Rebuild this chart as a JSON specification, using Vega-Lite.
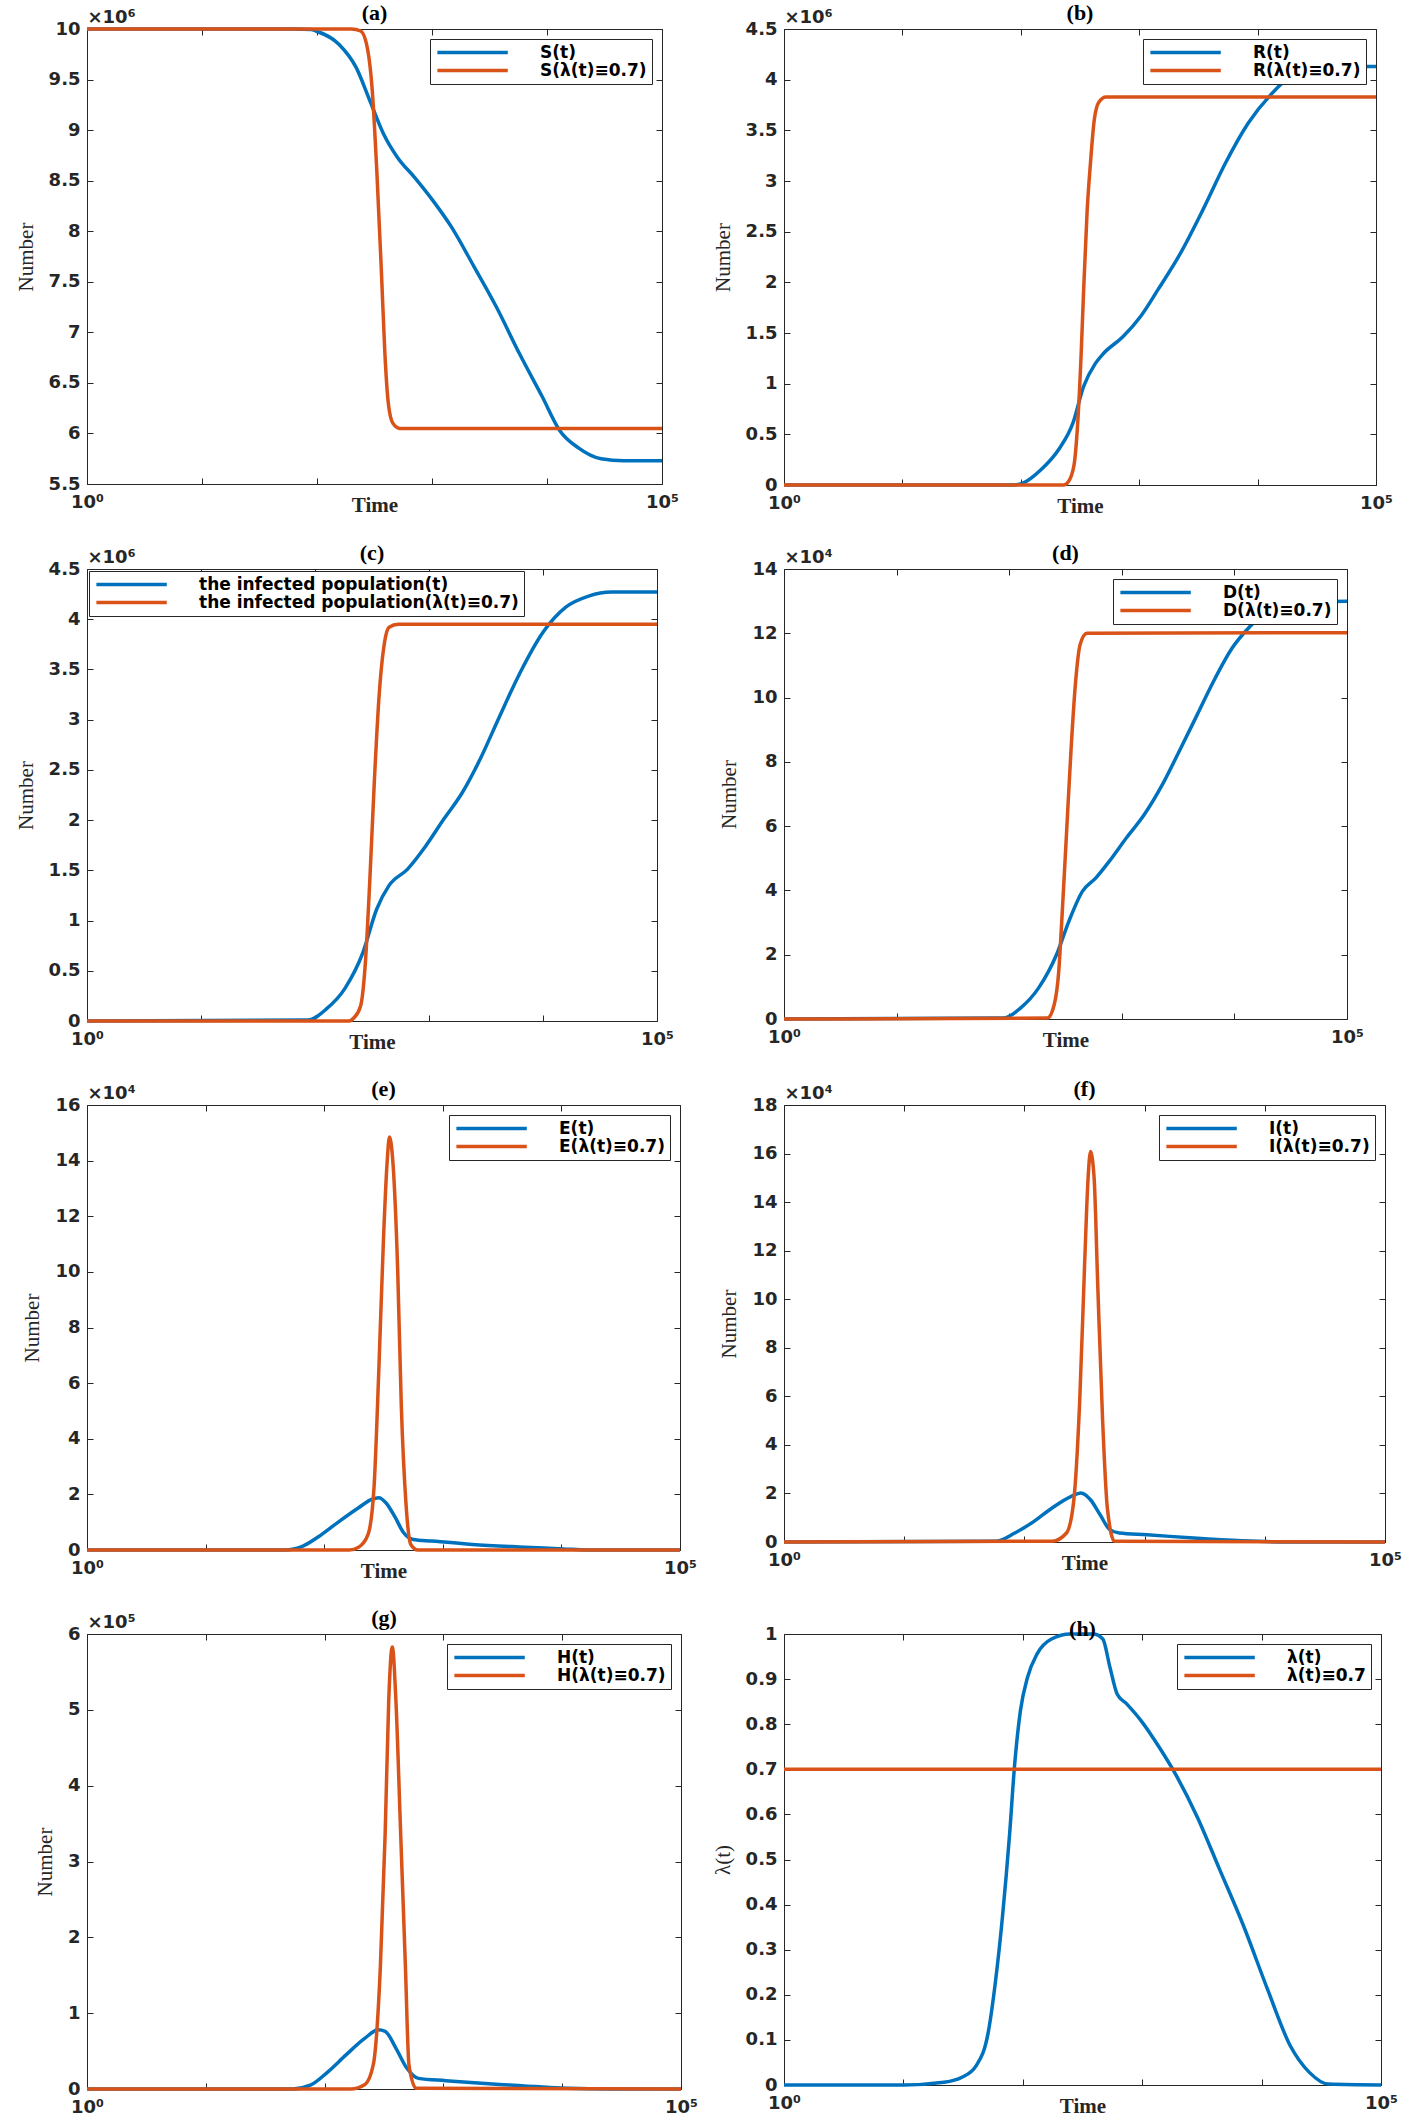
{
"$schema": "https://vega.github.io/schema/vega-lite/v6.json",
"background": "white",
"padding": {"left": 14, "top": 1, "right": 5, "bottom": 0},
"columns": 2,
"spacing": {"row": 24, "column": 13},
"resolve": {"scale": {"color": "independent"}, "legend": {"color": "independent"}},
"config": {
  "view": {"stroke": "#262626", "strokeWidth": 1},
  "axis": {"domain": false, "grid": false, "tickColor": "#262626", "tickSize": -6, "labelPadding": 13, "labelColor": "#262626", "labelFont": "DejaVu Sans", "labelFontWeight": "bold", "labelFontSize": 18, "titleColor": "#262626", "titleFont": "Liberation Serif"},
  "axisBottom": {"labelPadding": 15},
  "line": {"strokeWidth": 3.5, "interpolate": "monotone"},
  "legend": {"orient": "top-right", "offset": 10, "symbolType": "M-1,0H10.5", "symbolSize": 150, "symbolStrokeWidth": 3.5, "labelOffset": 88, "labelFont": "DejaVu Sans", "labelFontWeight": "bold", "labelFontSize": 17, "labelColor": "#000000", "strokeColor": "#262626", "fillColor": "white", "padding": 5, "rowPadding": 0, "labelLimit": 0},
  "title": {"font": "Liberation Serif", "fontSize": 22, "fontWeight": "bold", "color": "#000000", "offset": -16}
},
"datasets": {
  "a": [
    {"t":1,"v":10,"s":"S(t)"},{"t":31.62,"v":10,"s":"S(t)"},{"t":61.66,"v":10,"s":"S(t)"},{"t":89.13,"v":9.995,"s":"S(t)"},{"t":97.72,"v":9.98,"s":"S(t)"},{"t":154.9,"v":9.85,"s":"S(t)"},{"t":218.8,"v":9.62,"s":"S(t)"},{"t":288.4,"v":9.29,"s":"S(t)"},{"t":380.2,"v":8.96,"s":"S(t)"},{"t":501.2,"v":8.73,"s":"S(t)"},{"t":707.9,"v":8.53,"s":"S(t)"},{"t":1023,"v":8.3,"s":"S(t)"},{"t":1479,"v":8.04,"s":"S(t)"},{"t":2344,"v":7.64,"s":"S(t)"},{"t":3631,"v":7.25,"s":"S(t)"},{"t":5754,"v":6.79,"s":"S(t)"},{"t":9120,"v":6.36,"s":"S(t)"},{"t":12882,"v":6.03,"s":"S(t)"},{"t":18621,"v":5.86,"s":"S(t)"},{"t":29512,"v":5.75,"s":"S(t)"},{"t":46774,"v":5.73,"s":"S(t)"},{"t":100000,"v":5.73,"s":"S(t)"},
    {"t":1,"v":10,"s":"S(λ(t)≡0.7)"},{"t":199.5,"v":10,"s":"S(λ(t)≡0.7)"},{"t":239.9,"v":9.98,"s":"S(λ(t)≡0.7)"},{"t":275.4,"v":9.8,"s":"S(λ(t)≡0.7)"},{"t":302,"v":9.4,"s":"S(λ(t)≡0.7)"},{"t":331.1,"v":8.6,"s":"S(λ(t)≡0.7)"},{"t":363.1,"v":7.6,"s":"S(λ(t)≡0.7)"},{"t":389,"v":6.8,"s":"S(λ(t)≡0.7)"},{"t":416.9,"v":6.3,"s":"S(λ(t)≡0.7)"},{"t":457.1,"v":6.1,"s":"S(λ(t)≡0.7)"},{"t":524.8,"v":6.05,"s":"S(λ(t)≡0.7)"},{"t":100000,"v":6.05,"s":"S(λ(t)≡0.7)"}
  ],
  "b": [
    {"t":1,"v":0,"s":"R(t)"},{"t":87.1,"v":0,"s":"R(t)"},{"t":104.7,"v":0.02,"s":"R(t)"},{"t":147.9,"v":0.15,"s":"R(t)"},{"t":208.9,"v":0.35,"s":"R(t)"},{"t":275.4,"v":0.61,"s":"R(t)"},{"t":338.8,"v":0.97,"s":"R(t)"},{"t":426.6,"v":1.2,"s":"R(t)"},{"t":501.2,"v":1.3,"s":"R(t)"},{"t":724.4,"v":1.46,"s":"R(t)"},{"t":1023,"v":1.66,"s":"R(t)"},{"t":1445,"v":1.93,"s":"R(t)"},{"t":2239,"v":2.29,"s":"R(t)"},{"t":3467,"v":2.72,"s":"R(t)"},{"t":5370,"v":3.18,"s":"R(t)"},{"t":8318,"v":3.57,"s":"R(t)"},{"t":12882,"v":3.85,"s":"R(t)"},{"t":19953,"v":4.05,"s":"R(t)"},{"t":30903,"v":4.12,"s":"R(t)"},{"t":47863,"v":4.13,"s":"R(t)"},{"t":100000,"v":4.13,"s":"R(t)"},
    {"t":1,"v":0,"s":"R(λ(t)≡0.7)"},{"t":229.1,"v":0,"s":"R(λ(t)≡0.7)"},{"t":251.2,"v":0.03,"s":"R(λ(t)≡0.7)"},{"t":281.8,"v":0.2,"s":"R(λ(t)≡0.7)"},{"t":302,"v":0.6,"s":"R(λ(t)≡0.7)"},{"t":323.6,"v":1.3,"s":"R(λ(t)≡0.7)"},{"t":338.8,"v":1.9,"s":"R(λ(t)≡0.7)"},{"t":363.1,"v":2.7,"s":"R(λ(t)≡0.7)"},{"t":389,"v":3.2,"s":"R(λ(t)≡0.7)"},{"t":416.9,"v":3.6,"s":"R(λ(t)≡0.7)"},{"t":457.1,"v":3.78,"s":"R(λ(t)≡0.7)"},{"t":524.8,"v":3.83,"s":"R(λ(t)≡0.7)"},{"t":100000,"v":3.83,"s":"R(λ(t)≡0.7)"}
  ],
  "c": [
    {"t":1,"v":0,"s":"the infected population(t)"},{"t":87.1,"v":0.01,"s":"the infected population(t)"},{"t":125.9,"v":0.12,"s":"the infected population(t)"},{"t":182,"v":0.32,"s":"the infected population(t)"},{"t":263,"v":0.68,"s":"the infected population(t)"},{"t":346.7,"v":1.11,"s":"the infected population(t)"},{"t":446.7,"v":1.35,"s":"the infected population(t)"},{"t":645.7,"v":1.51,"s":"the infected population(t)"},{"t":933.3,"v":1.74,"s":"the infected population(t)"},{"t":1349,"v":2.01,"s":"the infected population(t)"},{"t":1950,"v":2.27,"s":"the infected population(t)"},{"t":2818,"v":2.61,"s":"the infected population(t)"},{"t":4074,"v":3.01,"s":"the infected population(t)"},{"t":6310,"v":3.47,"s":"the infected population(t)"},{"t":10000,"v":3.87,"s":"the infected population(t)"},{"t":15849,"v":4.12,"s":"the infected population(t)"},{"t":25119,"v":4.23,"s":"the infected population(t)"},{"t":39811,"v":4.27,"s":"the infected population(t)"},{"t":100000,"v":4.27,"s":"the infected population(t)"},
    {"t":1,"v":0,"s":"the infected population(λ(t)≡0.7)"},{"t":199.5,"v":0,"s":"the infected population(λ(t)≡0.7)"},{"t":218.8,"v":0.03,"s":"the infected population(λ(t)≡0.7)"},{"t":251.2,"v":0.15,"s":"the infected population(λ(t)≡0.7)"},{"t":275.4,"v":0.55,"s":"the infected population(λ(t)≡0.7)"},{"t":302,"v":1.38,"s":"the infected population(λ(t)≡0.7)"},{"t":331.1,"v":2.37,"s":"the infected population(λ(t)≡0.7)"},{"t":363.1,"v":3.2,"s":"the infected population(λ(t)≡0.7)"},{"t":407.4,"v":3.77,"s":"the infected population(λ(t)≡0.7)"},{"t":446.7,"v":3.92,"s":"the infected population(λ(t)≡0.7)"},{"t":537,"v":3.95,"s":"the infected population(λ(t)≡0.7)"},{"t":100000,"v":3.95,"s":"the infected population(λ(t)≡0.7)"}
  ],
  "d": [
    {"t":1,"v":0,"s":"D(t)"},{"t":89.13,"v":0.03,"s":"D(t)"},{"t":125.9,"v":0.34,"s":"D(t)"},{"t":182,"v":0.96,"s":"D(t)"},{"t":263,"v":2.0,"s":"D(t)"},{"t":338.8,"v":3.04,"s":"D(t)"},{"t":446.7,"v":3.97,"s":"D(t)"},{"t":588.8,"v":4.39,"s":"D(t)"},{"t":776.2,"v":4.91,"s":"D(t)"},{"t":1096,"v":5.63,"s":"D(t)"},{"t":1585,"v":6.36,"s":"D(t)"},{"t":2291,"v":7.29,"s":"D(t)"},{"t":3236,"v":8.33,"s":"D(t)"},{"t":4677,"v":9.47,"s":"D(t)"},{"t":6761,"v":10.61,"s":"D(t)"},{"t":9550,"v":11.54,"s":"D(t)"},{"t":13804,"v":12.22,"s":"D(t)"},{"t":21380,"v":12.79,"s":"D(t)"},{"t":33884,"v":12.97,"s":"D(t)"},{"t":100000,"v":13.0,"s":"D(t)"},
    {"t":1,"v":0,"s":"D(λ(t)≡0.7)"},{"t":218.8,"v":0.03,"s":"D(λ(t)≡0.7)"},{"t":251.2,"v":0.45,"s":"D(λ(t)≡0.7)"},{"t":275.4,"v":1.48,"s":"D(λ(t)≡0.7)"},{"t":295.1,"v":3.25,"s":"D(λ(t)≡0.7)"},{"t":323.6,"v":5.84,"s":"D(λ(t)≡0.7)"},{"t":354.8,"v":8.43,"s":"D(λ(t)≡0.7)"},{"t":389,"v":10.5,"s":"D(λ(t)≡0.7)"},{"t":426.6,"v":11.65,"s":"D(λ(t)≡0.7)"},{"t":489.8,"v":12.0,"s":"D(λ(t)≡0.7)"},{"t":100000,"v":12.02,"s":"D(λ(t)≡0.7)"}
  ],
  "e": [
    {"t":1,"v":0,"s":"E(t)"},{"t":46.77,"v":0,"s":"E(t)"},{"t":66.07,"v":0.14,"s":"E(t)"},{"t":95.5,"v":0.56,"s":"E(t)"},{"t":134.9,"v":1.04,"s":"E(t)"},{"t":195,"v":1.52,"s":"E(t)"},{"t":251.2,"v":1.82,"s":"E(t)"},{"t":288.4,"v":1.88,"s":"E(t)"},{"t":331.1,"v":1.7,"s":"E(t)"},{"t":398.1,"v":1.16,"s":"E(t)"},{"t":467.7,"v":0.62,"s":"E(t)"},{"t":562.3,"v":0.38,"s":"E(t)"},{"t":812.8,"v":0.32,"s":"E(t)"},{"t":1778,"v":0.2,"s":"E(t)"},{"t":4365,"v":0.11,"s":"E(t)"},{"t":10471,"v":0.04,"s":"E(t)"},{"t":16596,"v":0,"s":"E(t)"},{"t":100000,"v":0,"s":"E(t)"},
    {"t":1,"v":0,"s":"E(λ(t)≡0.7)"},{"t":162.2,"v":0,"s":"E(λ(t)≡0.7)"},{"t":195,"v":0.1,"s":"E(λ(t)≡0.7)"},{"t":234.4,"v":0.56,"s":"E(λ(t)≡0.7)"},{"t":263,"v":2.24,"s":"E(λ(t)≡0.7)"},{"t":288.4,"v":6.4,"s":"E(λ(t)≡0.7)"},{"t":316.2,"v":11.2,"s":"E(λ(t)≡0.7)"},{"t":338.8,"v":13.9,"s":"E(λ(t)≡0.7)"},{"t":354.8,"v":14.85,"s":"E(λ(t)≡0.7)"},{"t":380.2,"v":13.9,"s":"E(λ(t)≡0.7)"},{"t":416.9,"v":10.0,"s":"E(λ(t)≡0.7)"},{"t":446.7,"v":5.2,"s":"E(λ(t)≡0.7)"},{"t":489.8,"v":1.64,"s":"E(λ(t)≡0.7)"},{"t":537,"v":0.2,"s":"E(λ(t)≡0.7)"},{"t":616.6,"v":0,"s":"E(λ(t)≡0.7)"},{"t":100000,"v":0,"s":"E(λ(t)≡0.7)"}
  ],
  "f": [
    {"t":1,"v":0,"s":"I(t)"},{"t":57.54,"v":0.03,"s":"I(t)"},{"t":83.18,"v":0.37,"s":"I(t)"},{"t":120.2,"v":0.85,"s":"I(t)"},{"t":169.8,"v":1.4,"s":"I(t)"},{"t":245.5,"v":1.88,"s":"I(t)"},{"t":295.1,"v":2.02,"s":"I(t)"},{"t":354.8,"v":1.74,"s":"I(t)"},{"t":426.6,"v":1.12,"s":"I(t)"},{"t":512.9,"v":0.51,"s":"I(t)"},{"t":616.6,"v":0.37,"s":"I(t)"},{"t":1047,"v":0.3,"s":"I(t)"},{"t":2570,"v":0.16,"s":"I(t)"},{"t":6457,"v":0.05,"s":"I(t)"},{"t":15849,"v":0,"s":"I(t)"},{"t":100000,"v":0,"s":"I(t)"},
    {"t":1,"v":0,"s":"I(λ(t)≡0.7)"},{"t":169.8,"v":0.03,"s":"I(λ(t)≡0.7)"},{"t":223.9,"v":0.37,"s":"I(λ(t)≡0.7)"},{"t":257,"v":1.67,"s":"I(λ(t)≡0.7)"},{"t":288.4,"v":5.79,"s":"I(λ(t)≡0.7)"},{"t":316.2,"v":11.3,"s":"I(λ(t)≡0.7)"},{"t":338.8,"v":15.0,"s":"I(λ(t)≡0.7)"},{"t":354.8,"v":16.08,"s":"I(λ(t)≡0.7)"},{"t":380.2,"v":15.0,"s":"I(λ(t)≡0.7)"},{"t":407.4,"v":10.6,"s":"I(λ(t)≡0.7)"},{"t":446.7,"v":5.1,"s":"I(λ(t)≡0.7)"},{"t":489.8,"v":1.4,"s":"I(λ(t)≡0.7)"},{"t":562.3,"v":0.03,"s":"I(λ(t)≡0.7)"},{"t":100000,"v":0,"s":"I(λ(t)≡0.7)"}
  ],
  "g": [
    {"t":1,"v":0,"s":"H(t)"},{"t":53.7,"v":0,"s":"H(t)"},{"t":75.86,"v":0.05,"s":"H(t)"},{"t":107.2,"v":0.23,"s":"H(t)"},{"t":151.4,"v":0.45,"s":"H(t)"},{"t":218.8,"v":0.67,"s":"H(t)"},{"t":281.8,"v":0.78,"s":"H(t)"},{"t":323.6,"v":0.76,"s":"H(t)"},{"t":398.1,"v":0.54,"s":"H(t)"},{"t":489.8,"v":0.28,"s":"H(t)"},{"t":616.6,"v":0.14,"s":"H(t)"},{"t":1047,"v":0.11,"s":"H(t)"},{"t":2951,"v":0.06,"s":"H(t)"},{"t":10965,"v":0.01,"s":"H(t)"},{"t":25704,"v":0,"s":"H(t)"},{"t":100000,"v":0,"s":"H(t)"},
    {"t":1,"v":0,"s":"H(λ(t)≡0.7)"},{"t":166,"v":0,"s":"H(λ(t)≡0.7)"},{"t":218.8,"v":0.06,"s":"H(λ(t)≡0.7)"},{"t":257,"v":0.32,"s":"H(λ(t)≡0.7)"},{"t":295.1,"v":1.63,"s":"H(λ(t)≡0.7)"},{"t":323.6,"v":3.38,"s":"H(λ(t)≡0.7)"},{"t":346.7,"v":5.13,"s":"H(λ(t)≡0.7)"},{"t":371.5,"v":5.83,"s":"H(λ(t)≡0.7)"},{"t":398.1,"v":5.13,"s":"H(λ(t)≡0.7)"},{"t":436.5,"v":3.38,"s":"H(λ(t)≡0.7)"},{"t":478.6,"v":1.63,"s":"H(λ(t)≡0.7)"},{"t":512.9,"v":0.32,"s":"H(λ(t)≡0.7)"},{"t":588.8,"v":0.01,"s":"H(λ(t)≡0.7)"},{"t":100000,"v":0,"s":"H(λ(t)≡0.7)"}
  ],
  "h": [
    {"t":1,"v":0,"s":"λ(t)"},{"t":10,"v":0,"s":"λ(t)"},{"t":21.88,"v":0.006,"s":"λ(t)"},{"t":30.9,"v":0.017,"s":"λ(t)"},{"t":40.74,"v":0.043,"s":"λ(t)"},{"t":51.29,"v":0.116,"s":"λ(t)"},{"t":58.88,"v":0.227,"s":"λ(t)"},{"t":67.61,"v":0.374,"s":"λ(t)"},{"t":77.62,"v":0.558,"s":"λ(t)"},{"t":85.11,"v":0.705,"s":"λ(t)"},{"t":95.5,"v":0.83,"s":"λ(t)"},{"t":109.6,"v":0.904,"s":"λ(t)"},{"t":131.8,"v":0.956,"s":"λ(t)"},{"t":173.8,"v":0.989,"s":"λ(t)"},{"t":251.2,"v":1.0,"s":"λ(t)"},{"t":389,"v":1.0,"s":"λ(t)"},{"t":467.7,"v":0.989,"s":"λ(t)"},{"t":537,"v":0.926,"s":"λ(t)"},{"t":616.6,"v":0.867,"s":"λ(t)"},{"t":741.3,"v":0.845,"s":"λ(t)"},{"t":977.2,"v":0.808,"s":"λ(t)"},{"t":1380,"v":0.75,"s":"λ(t)"},{"t":1820,"v":0.698,"s":"λ(t)"},{"t":2884,"v":0.595,"s":"λ(t)"},{"t":4467,"v":0.477,"s":"λ(t)"},{"t":7079,"v":0.352,"s":"λ(t)"},{"t":11220,"v":0.212,"s":"λ(t)"},{"t":17378,"v":0.087,"s":"λ(t)"},{"t":25119,"v":0.028,"s":"λ(t)"},{"t":36308,"v":0.002,"s":"λ(t)"},{"t":100000,"v":0,"s":"λ(t)"},
    {"t":1,"v":0.7,"s":"λ(t)≡0.7"},{"t":100000,"v":0.7,"s":"λ(t)≡0.7"}
  ]
},
"concat": [
  {
    "width": 575, "height": 455,
    "data": {"name": "a"},
    "title": {"text": "(a)"},
    "resolve": {"axis": {"x": "independent", "y": "independent"}},
    "layer": [
      {"mark": {"type": "line"},
       "encoding": {
         "x": {"field": "t", "type": "quantitative", "scale": {"type": "log", "domain": [1, 100000], "nice": false}, "axis": {"orient": "bottom", "values": [1,10,100,1000,10000,100000], "labelExpr": "datum.value == 1 ? '10⁰' : datum.value == 100000 ? '10⁵' : ''", "labelFlush": false, "labelOverlap": false, "title": "Time", "titleFontWeight": "bold", "titleFontSize": 21, "titlePadding": -17}},
         "y": {"field": "v", "type": "quantitative", "scale": {"domain": [5.5, 10], "nice": false, "zero": false}, "axis": {"orient": "left", "values": [5.5,6,6.5,7,7.5,8,8.5,9,9.5,10], "format": "~g", "title": "Number", "titleFontSize": 21, "titleFontWeight": "normal", "titlePadding": 12}},
         "color": {"field": "s", "type": "nominal", "scale": {"domain": ["S(t)", "S(λ(t)≡0.7)"], "range": ["#0072BD", "#D95319"]}, "legend": {"title": null}}
       }},
      {"mark": {"type": "line", "strokeOpacity": 0},
       "encoding": {
         "x": {"field": "t", "type": "quantitative", "scale": {"type": "log", "domain": [1, 100000], "nice": false}, "axis": {"orient": "top", "values": [1,10,100,1000,10000,100000], "labels": false, "title": "×10⁶", "titleAnchor": "start", "titleAlign": "left", "titlePadding": 2, "titleFont": "DejaVu Sans", "titleFontWeight": "bold", "titleFontSize": 18}},
         "y": {"field": "v", "type": "quantitative", "scale": {"domain": [5.5, 10], "nice": false, "zero": false}, "axis": {"orient": "right", "values": [5.5,6,6.5,7,7.5,8,8.5,9,9.5,10], "labels": false, "title": null}}
       }}
    ]
  },
  {
    "width": 592, "height": 456,
    "data": {"name": "b"},
    "title": {"text": "(b)"},
    "resolve": {"axis": {"x": "independent", "y": "independent"}},
    "layer": [
      {"mark": {"type": "line"},
       "encoding": {
         "x": {"field": "t", "type": "quantitative", "scale": {"type": "log", "domain": [1, 100000], "nice": false}, "axis": {"orient": "bottom", "values": [1,10,100,1000,10000,100000], "labelExpr": "datum.value == 1 ? '10⁰' : datum.value == 100000 ? '10⁵' : ''", "labelFlush": false, "labelOverlap": false, "title": "Time", "titleFontWeight": "bold", "titleFontSize": 21, "titlePadding": -17}},
         "y": {"field": "v", "type": "quantitative", "scale": {"domain": [0, 4.5], "nice": false}, "axis": {"orient": "left", "values": [0,0.5,1,1.5,2,2.5,3,3.5,4,4.5], "format": "~g", "title": "Number", "titleFontSize": 21, "titleFontWeight": "normal", "titlePadding": 12}},
         "color": {"field": "s", "type": "nominal", "scale": {"domain": ["R(t)", "R(λ(t)≡0.7)"], "range": ["#0072BD", "#D95319"]}, "legend": {"title": null}}
       }},
      {"mark": {"type": "line", "strokeOpacity": 0},
       "encoding": {
         "x": {"field": "t", "type": "quantitative", "scale": {"type": "log", "domain": [1, 100000], "nice": false}, "axis": {"orient": "top", "values": [1,10,100,1000,10000,100000], "labels": false, "title": "×10⁶", "titleAnchor": "start", "titleAlign": "left", "titlePadding": 2, "titleFont": "DejaVu Sans", "titleFontWeight": "bold", "titleFontSize": 18}},
         "y": {"field": "v", "type": "quantitative", "scale": {"domain": [0, 4.5], "nice": false}, "axis": {"orient": "right", "values": [0,0.5,1,1.5,2,2.5,3,3.5,4,4.5], "labels": false, "title": null}}
       }}
    ]
  },
  {
    "width": 570, "height": 452,
    "data": {"name": "c"},
    "title": {"text": "(c)"},
    "resolve": {"axis": {"x": "independent", "y": "independent"}},
    "layer": [
      {"mark": {"type": "line"},
       "encoding": {
         "x": {"field": "t", "type": "quantitative", "scale": {"type": "log", "domain": [1, 100000], "nice": false}, "axis": {"orient": "bottom", "values": [1,10,100,1000,10000,100000], "labelExpr": "datum.value == 1 ? '10⁰' : datum.value == 100000 ? '10⁵' : ''", "labelFlush": false, "labelOverlap": false, "title": "Time", "titleFontWeight": "bold", "titleFontSize": 21, "titlePadding": -17}},
         "y": {"field": "v", "type": "quantitative", "scale": {"domain": [0, 4.5], "nice": false}, "axis": {"orient": "left", "values": [0,0.5,1,1.5,2,2.5,3,3.5,4,4.5], "format": "~g", "title": "Number", "titleFontSize": 21, "titleFontWeight": "normal", "titlePadding": 12}},
         "color": {"field": "s", "type": "nominal", "scale": {"domain": ["the infected population(t)", "the infected population(λ(t)≡0.7)"], "range": ["#0072BD", "#D95319"]}, "legend": {"title": null, "orient": "top-left", "offset": 2}}
       }},
      {"mark": {"type": "line", "strokeOpacity": 0},
       "encoding": {
         "x": {"field": "t", "type": "quantitative", "scale": {"type": "log", "domain": [1, 100000], "nice": false}, "axis": {"orient": "top", "values": [1,10,100,1000,10000,100000], "labels": false, "title": "×10⁶", "titleAnchor": "start", "titleAlign": "left", "titlePadding": 2, "titleFont": "DejaVu Sans", "titleFontWeight": "bold", "titleFontSize": 18}},
         "y": {"field": "v", "type": "quantitative", "scale": {"domain": [0, 4.5], "nice": false}, "axis": {"orient": "right", "values": [0,0.5,1,1.5,2,2.5,3,3.5,4,4.5], "labels": false, "title": null}}
       }}
    ]
  },
  {
    "width": 563, "height": 450,
    "data": {"name": "d"},
    "title": {"text": "(d)"},
    "resolve": {"axis": {"x": "independent", "y": "independent"}},
    "layer": [
      {"mark": {"type": "line"},
       "encoding": {
         "x": {"field": "t", "type": "quantitative", "scale": {"type": "log", "domain": [1, 100000], "nice": false}, "axis": {"orient": "bottom", "values": [1,10,100,1000,10000,100000], "labelExpr": "datum.value == 1 ? '10⁰' : datum.value == 100000 ? '10⁵' : ''", "labelFlush": false, "labelOverlap": false, "title": "Time", "titleFontWeight": "bold", "titleFontSize": 21, "titlePadding": -17}},
         "y": {"field": "v", "type": "quantitative", "scale": {"domain": [0, 14], "nice": false}, "axis": {"orient": "left", "values": [0,2,4,6,8,10,12,14], "format": "~g", "title": "Number", "titleFontSize": 21, "titleFontWeight": "normal", "titlePadding": 12}},
         "color": {"field": "s", "type": "nominal", "scale": {"domain": ["D(t)", "D(λ(t)≡0.7)"], "range": ["#0072BD", "#D95319"]}, "legend": {"title": null}}
       }},
      {"mark": {"type": "line", "strokeOpacity": 0},
       "encoding": {
         "x": {"field": "t", "type": "quantitative", "scale": {"type": "log", "domain": [1, 100000], "nice": false}, "axis": {"orient": "top", "values": [1,10,100,1000,10000,100000], "labels": false, "title": "×10⁴", "titleAnchor": "start", "titleAlign": "left", "titlePadding": 2, "titleFont": "DejaVu Sans", "titleFontWeight": "bold", "titleFontSize": 18}},
         "y": {"field": "v", "type": "quantitative", "scale": {"domain": [0, 14], "nice": false}, "axis": {"orient": "right", "values": [0,2,4,6,8,10,12,14], "labels": false, "title": null}}
       }}
    ]
  },
  {
    "width": 593, "height": 445,
    "data": {"name": "e"},
    "title": {"text": "(e)"},
    "resolve": {"axis": {"x": "independent", "y": "independent"}},
    "layer": [
      {"mark": {"type": "line"},
       "encoding": {
         "x": {"field": "t", "type": "quantitative", "scale": {"type": "log", "domain": [1, 100000], "nice": false}, "axis": {"orient": "bottom", "values": [1,10,100,1000,10000,100000], "labelExpr": "datum.value == 1 ? '10⁰' : datum.value == 100000 ? '10⁵' : ''", "labelFlush": false, "labelOverlap": false, "title": "Time", "titleFontWeight": "bold", "titleFontSize": 21, "titlePadding": -17}},
         "y": {"field": "v", "type": "quantitative", "scale": {"domain": [0, 16], "nice": false}, "axis": {"orient": "left", "values": [0,2,4,6,8,10,12,14,16], "format": "~g", "title": "Number", "titleFontSize": 21, "titleFontWeight": "normal", "titlePadding": 12}},
         "color": {"field": "s", "type": "nominal", "scale": {"domain": ["E(t)", "E(λ(t)≡0.7)"], "range": ["#0072BD", "#D95319"]}, "legend": {"title": null}}
       }},
      {"mark": {"type": "line", "strokeOpacity": 0},
       "encoding": {
         "x": {"field": "t", "type": "quantitative", "scale": {"type": "log", "domain": [1, 100000], "nice": false}, "axis": {"orient": "top", "values": [1,10,100,1000,10000,100000], "labels": false, "title": "×10⁴", "titleAnchor": "start", "titleAlign": "left", "titlePadding": 2, "titleFont": "DejaVu Sans", "titleFontWeight": "bold", "titleFontSize": 18}},
         "y": {"field": "v", "type": "quantitative", "scale": {"domain": [0, 16], "nice": false}, "axis": {"orient": "right", "values": [0,2,4,6,8,10,12,14,16], "labels": false, "title": null}}
       }}
    ]
  },
  {
    "width": 601, "height": 437,
    "data": {"name": "f"},
    "title": {"text": "(f)"},
    "resolve": {"axis": {"x": "independent", "y": "independent"}},
    "layer": [
      {"mark": {"type": "line"},
       "encoding": {
         "x": {"field": "t", "type": "quantitative", "scale": {"type": "log", "domain": [1, 100000], "nice": false}, "axis": {"orient": "bottom", "values": [1,10,100,1000,10000,100000], "labelExpr": "datum.value == 1 ? '10⁰' : datum.value == 100000 ? '10⁵' : ''", "labelFlush": false, "labelOverlap": false, "title": "Time", "titleFontWeight": "bold", "titleFontSize": 21, "titlePadding": -17}},
         "y": {"field": "v", "type": "quantitative", "scale": {"domain": [0, 18], "nice": false}, "axis": {"orient": "left", "values": [0,2,4,6,8,10,12,14,16,18], "format": "~g", "title": "Number", "titleFontSize": 21, "titleFontWeight": "normal", "titlePadding": 12}},
         "color": {"field": "s", "type": "nominal", "scale": {"domain": ["I(t)", "I(λ(t)≡0.7)"], "range": ["#0072BD", "#D95319"]}, "legend": {"title": null}}
       }},
      {"mark": {"type": "line", "strokeOpacity": 0},
       "encoding": {
         "x": {"field": "t", "type": "quantitative", "scale": {"type": "log", "domain": [1, 100000], "nice": false}, "axis": {"orient": "top", "values": [1,10,100,1000,10000,100000], "labels": false, "title": "×10⁴", "titleAnchor": "start", "titleAlign": "left", "titlePadding": 2, "titleFont": "DejaVu Sans", "titleFontWeight": "bold", "titleFontSize": 18}},
         "y": {"field": "v", "type": "quantitative", "scale": {"domain": [0, 18], "nice": false}, "axis": {"orient": "right", "values": [0,2,4,6,8,10,12,14,16,18], "labels": false, "title": null}}
       }}
    ]
  },
  {
    "width": 594, "height": 455,
    "data": {"name": "g"},
    "title": {"text": "(g)"},
    "resolve": {"axis": {"x": "independent", "y": "independent"}},
    "layer": [
      {"mark": {"type": "line"},
       "encoding": {
         "x": {"field": "t", "type": "quantitative", "scale": {"type": "log", "domain": [1, 100000], "nice": false}, "axis": {"orient": "bottom", "values": [1,10,100,1000,10000,100000], "labelExpr": "datum.value == 1 ? '10⁰' : datum.value == 100000 ? '10⁵' : ''", "labelFlush": false, "labelOverlap": false, "title": null}},
         "y": {"field": "v", "type": "quantitative", "scale": {"domain": [0, 6], "nice": false}, "axis": {"orient": "left", "values": [0,1,2,3,4,5,6], "format": "~g", "title": "Number", "titleFontSize": 21, "titleFontWeight": "normal", "titlePadding": 12}},
         "color": {"field": "s", "type": "nominal", "scale": {"domain": ["H(t)", "H(λ(t)≡0.7)"], "range": ["#0072BD", "#D95319"]}, "legend": {"title": null}}
       }},
      {"mark": {"type": "line", "strokeOpacity": 0},
       "encoding": {
         "x": {"field": "t", "type": "quantitative", "scale": {"type": "log", "domain": [1, 100000], "nice": false}, "axis": {"orient": "top", "values": [1,10,100,1000,10000,100000], "labels": false, "title": "×10⁵", "titleAnchor": "start", "titleAlign": "left", "titlePadding": 2, "titleFont": "DejaVu Sans", "titleFontWeight": "bold", "titleFontSize": 18}},
         "y": {"field": "v", "type": "quantitative", "scale": {"domain": [0, 6], "nice": false}, "axis": {"orient": "right", "values": [0,1,2,3,4,5,6], "labels": false, "title": null}}
       }}
    ]
  },
  {
    "width": 597, "height": 451,
    "data": {"name": "h"},
    "title": {"text": "(h)"},
    "resolve": {"axis": {"x": "independent", "y": "independent"}},
    "layer": [
      {"mark": {"type": "line"},
       "encoding": {
         "x": {"field": "t", "type": "quantitative", "scale": {"type": "log", "domain": [1, 100000], "nice": false}, "axis": {"orient": "bottom", "values": [1,10,100,1000,10000,100000], "labelExpr": "datum.value == 1 ? '10⁰' : datum.value == 100000 ? '10⁵' : ''", "labelFlush": false, "labelOverlap": false, "title": "Time", "titleFontWeight": "bold", "titleFontSize": 21, "titlePadding": -17}},
         "y": {"field": "v", "type": "quantitative", "scale": {"domain": [0, 1], "nice": false}, "axis": {"orient": "left", "values": [0,0.1,0.2,0.3,0.4,0.5,0.6,0.7,0.8,0.9,1], "format": "~g", "title": "λ(t)", "titleFontSize": 21, "titleFontWeight": "normal", "titlePadding": 12}},
         "color": {"field": "s", "type": "nominal", "scale": {"domain": ["λ(t)", "λ(t)≡0.7"], "range": ["#0072BD", "#D95319"]}, "legend": {"title": null}}
       }},
      {"mark": {"type": "line", "strokeOpacity": 0},
       "encoding": {
         "x": {"field": "t", "type": "quantitative", "scale": {"type": "log", "domain": [1, 100000], "nice": false}, "axis": {"orient": "top", "values": [1,10,100,1000,10000,100000], "labels": false, "title": null}},
         "y": {"field": "v", "type": "quantitative", "scale": {"domain": [0, 1], "nice": false}, "axis": {"orient": "right", "values": [0,0.1,0.2,0.3,0.4,0.5,0.6,0.7,0.8,0.9,1], "labels": false, "title": null}}
       }}
    ]
  }
]
}
